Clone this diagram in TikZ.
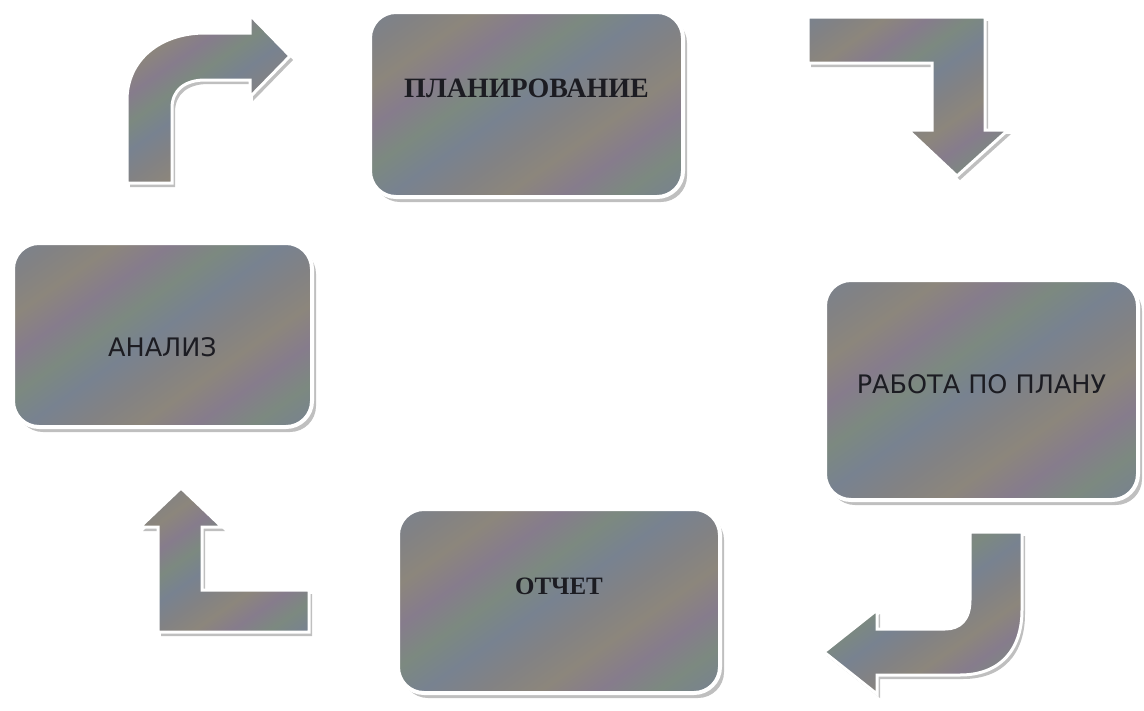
\documentclass[tikz,border=0pt]{standalone}
\usepackage{fontspec}
\setmainfont{Liberation Serif}
\newfontfamily\boxsans{DejaVu Sans}
\usetikzlibrary{shadows}
\definecolor{irisA}{RGB}{134,124,140}
\definecolor{irisB}{RGB}{124,137,128}
\definecolor{irisC}{RGB}{120,130,144}
\definecolor{irisD}{RGB}{140,134,124}
\definecolor{irisE}{RGB}{130,130,132}
\definecolor{ink}{RGB}{28,28,34}
\pgfdeclarehorizontalshading{iris}{100bp}{color(0bp)=(irisA); color(7bp)=(irisB);
  color(14bp)=(irisC); color(21bp)=(irisE); color(28bp)=(irisD); color(35bp)=(irisA);
  color(42bp)=(irisB); color(49bp)=(irisC); color(56bp)=(irisE); color(63bp)=(irisD);
  color(70bp)=(irisA); color(77bp)=(irisB); color(84bp)=(irisC); color(91bp)=(irisE);
  color(100bp)=(irisD)}
\tikzstyle{block} = [rounded corners=26pt, draw=white, line width=4pt, inner sep=0pt,
  shading=iris, shading angle=-55,
  drop shadow={shadow xshift=4pt, shadow yshift=-5pt, opacity=0.25, fill=black}]
\tikzset{bent/.style={draw=white, line width=3pt, shading=iris, shading angle=-55,
    drop shadow={shadow xshift=3pt, shadow yshift=-4pt, opacity=0.25, fill=black}},
  serifword/.style={font=\fontsize{28}{30}\selectfont\bfseries, text=ink},
  sansword/.style={font=\boxsans\fontsize{25.5}{30}\selectfont, text=ink}}

\begin{document}
\begin{tikzpicture}[x=1pt, y=-1pt]
    % Definition of the bent arrows
    \def\firstarrow{(127,183) -- (127,100) .. controls (127,60) and (160,33) .. (205,33)
      -- (250,33) -- (250,15) -- (290,56) -- (250,97) -- (250,80) -- (205,80)
      .. controls (185,80) and (172,90) .. (172,108) -- (172,183) -- cycle}
    \def\secondarrow{(808,17) -- (985,17) -- (985,130) -- (1008,130) -- (957,176)
      -- (908,130) -- (932,130) -- (932,63) -- (808,63) -- cycle}
    \def\thirdarrow{(970,532) -- (1022,532) -- (1022,610) .. controls (1022,650) and (1000,675) .. (960,675)
      -- (877,675) -- (877,694) -- (824,652) -- (877,610) -- (877,629) -- (945,629)
      .. controls (960,629) and (970,620) .. (970,600) -- cycle}
    \def\fourtharrow{(309,590) -- (309,632) -- (158,632) -- (158,527) -- (140,527)
      -- (181,488) -- (222,527) -- (202,527) -- (202,590) -- cycle}
    %
    \fill[white] (0,0) rectangle (1144,710);
    \useasboundingbox (0,0) rectangle (1144,710);
    % boxes
    \node[block, minimum width=313pt, minimum height=185pt,
      label={[serifword, yshift=16pt]center:ПЛАНИРОВАНИЕ}] (plan) at (526.5,104.5) {};
    \node[block, minimum width=313pt, minimum height=220pt,
      label={[sansword, yshift=6pt]center:РАБОТА ПО ПЛАНУ}] (work) at (981.5,390) {};
    \node[block, minimum width=322pt, minimum height=184pt,
      label={[serifword, font=\fontsize{25}{28}\selectfont\bfseries, yshift=15pt]center:ОТЧЕТ}] (report) at (559,601) {};
    \node[block, minimum width=299pt, minimum height=184pt,
      label={[sansword, yshift=-12pt]center:АНАЛИЗ}] (review) at (162.5,335) {};
    % arrows
    \path[bent] \firstarrow;
    \path[bent] \secondarrow;
    \path[bent] \thirdarrow;
    \path[bent] \fourtharrow;
\end{tikzpicture}
\end{document}
